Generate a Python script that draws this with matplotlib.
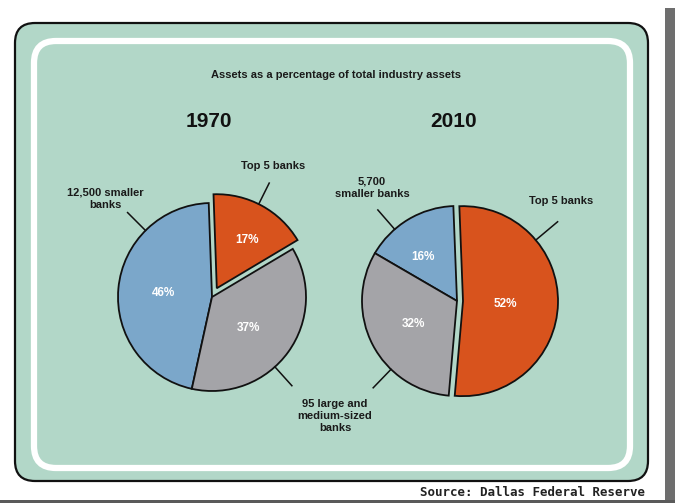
import matplotlib.pyplot as plt
import numpy as np
from matplotlib.patches import FancyBboxPatch, Rectangle

# data
labels = ['Top 5 banks', 'smaller banks', 'large and medium-sized banks']
share_1970 = [17, 46, 37]
share_2010 = [52, 16, 32]
years = ['1970', '2010']
colors = ['#d8531d', '#7ba7ca', '#a4a4a8']

W, H = 675, 503
BG = '#b2d7c8'
FONT = ['Liberation Sans', 'DejaVu Sans']


def Y(y):
    # pixel row (from top) -> data y
    return H - y


fig = plt.figure(figsize=(6.75, 5.03), dpi=100)
ax = fig.add_axes([0, 0, 1, 1])

# page shadow
ax.add_patch(Rectangle((665, 0), 10, Y(8), color='#6e6e6e', lw=0))
ax.add_patch(Rectangle((0, 0), W, 3, color='#5a5a5a', lw=0))

# panel
ax.add_patch(FancyBboxPatch((15 + 20, Y(481) + 20), 633 - 40, 458 - 40,
                            boxstyle='round,pad=20', fc=BG, ec='#111111', lw=1.6))
ax.add_patch(FancyBboxPatch((34 + 22, Y(468) + 22), 596 - 44, 427 - 44,
                            boxstyle='round,pad=22', fc='none', ec='white', lw=4.5))

ax.text(336, Y(75), 'Assets as a percentage of total industry assets', ha='center',
        va='center', fontsize=8, fontweight='bold', family=FONT, color='#1a1a1a')

R1, C1 = 94, (212, Y(297))
R2, C2 = 95, (457, Y(301))


def draw_pie(values, center, radius, start, explode, year):
    # explode is in data units (pixels here)
    wedges, _, autotexts = ax.pie(values, colors=colors, startangle=start, center=center,
                                  radius=radius, explode=explode, autopct='%d%%',
                                  pctdistance=0.52, frame=True,
                                  wedgeprops=dict(edgecolor='#111111', linewidth=1.3),
                                  textprops=dict(color='white', fontsize=8.5,
                                                 fontweight='bold', family=FONT))
    ax.text(center[0] - 3, Y(121), year, ha='center', va='center', fontsize=15,
            fontweight='bold', family=FONT, color='#111111')
    return wedges, autotexts


w1, t1 = draw_pie(share_1970, C1, R1, 30.8, [10, 0, 0], years[0])
w2, t2 = draw_pie(share_2010, C2, R2, -95, [6, 0, 0], years[1])
ax.set_xlim(0, W)
ax.set_ylim(0, H)
ax.set_aspect('equal')
ax.axis('off')

t1[0].set_position((247, Y(240)))
t1[2].set_position((248, Y(328)))
t2[0].set_position((505, Y(304)))
t2[1].set_position((423, Y(257)))


def leader(wedge, ang, r0=1.0, r1=1.27):
    cx, cy = wedge.center
    r = wedge.r
    a = np.deg2rad(ang)
    ax.plot([cx + r * r0 * np.cos(a), cx + r * r1 * np.cos(a)],
            [cy + r * r0 * np.sin(a), cy + r * r1 * np.sin(a)], color='#111111', lw=1.1)


leader(w1[0], 63.5, 1.0, 1.25)
leader(w1[1], 135)
leader(w1[2], -48)
leader(w2[0], 40, 1.0, 1.3)
leader(w2[1], 131)
leader(w2[2], 226)

lab = dict(ha='center', va='center', fontsize=8, fontweight='bold', family=FONT,
           color='#1a1a1a', linespacing=1.3)
ax.text(273, Y(166), labels[0], **lab)
ax.text(105, Y(199), '12,500 smaller\nbanks', **lab)
ax.text(335, Y(416), '95 large and\nmedium-sized\nbanks', **lab)
ax.text(372, Y(188), '5,700\nsmaller banks', **lab)
ax.text(561, Y(201), labels[0], **lab)

ax.text(645, Y(493), 'Source: Dallas Federal Reserve', ha='right', va='center',
        fontsize=9, fontweight='bold', family='DejaVu Sans Mono', color='#222222')

fig.savefig('out.png', dpi=100, facecolor='white')
